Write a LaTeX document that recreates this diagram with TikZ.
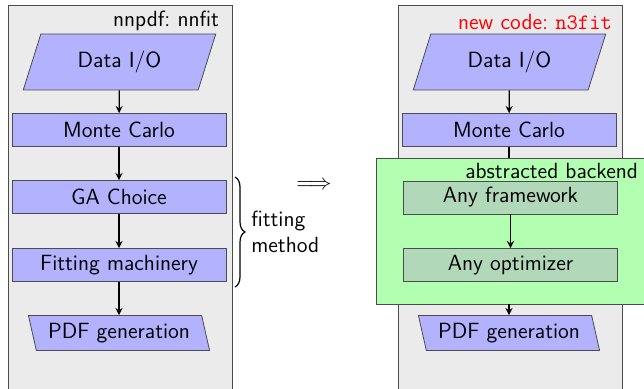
\documentclass[tikz,border=0pt]{standalone}
\usetikzlibrary{shapes.geometric,decorations.pathreplacing}
\definecolor{panelgray}{RGB}{235,235,235}
\definecolor{boxblue}{RGB}{178,178,255}
\definecolor{backgreen}{RGB}{178,255,178}
\definecolor{anygreen}{RGB}{178,216,186}
\begin{document}
\begin{tikzpicture}[x=0.5pt,y=-0.5pt,>=stealth,
    every node/.style={font=\sffamily\fontsize{11}{13.2}\selectfont},
    flow/.style={->, semithick},
    step box/.style={draw=black!70, fill=boxblue, minimum width=107pt, minimum height=16.5pt, inner sep=0pt},
    any box/.style={step box, fill=anygreen},
    io box/.style={trapezium, draw=black!70, fill=boxblue, trapezium stretches=true, inner sep=0pt},
    data box/.style={io box, trapezium left angle=67, trapezium right angle=113, minimum width=96.5pt, minimum height=28pt},
    pdf box/.style={io box, trapezium left angle=109, trapezium right angle=71, minimum width=91pt, minimum height=17.5pt}]
    \useasboundingbox (0,0) rectangle (644,389);

    \draw[black!70, fill=panelgray] (8,5) rectangle (232,400);
    \draw[black!70, fill=panelgray] (398,5) rectangle (622,400);

    \node[anchor=east] (nnfit) at (226,21) {nnpdf:\ nnfit};
    \node[data box] (data1) at (119.5,62) {Data I/O};
    \node[step box] (mc1) at (119,130) {Monte Carlo};
    \node[step box] (ga1) at (119,197) {GA Choice};
    \node[step box] (fit1) at (119,265) {Fitting machinery};
    \node[pdf box] (pdf1) at (119,333) {PDF generation};

    \draw[flow] (data1) -- (mc1);
    \draw[flow] (mc1) -- (ga1);
    \draw[flow] (ga1) -- (fit1);
    \draw[flow] (fit1) -- (pdf1);

    \draw[semithick, decorate, decoration={brace, amplitude=5pt}] (235,177) -- (235,287);
    \node[anchor=west, align=left, inner sep=1pt] (method) at (249,232) {fitting\\method};
    \node[inner sep=0pt] (implies) at (314,185) {$\Longrightarrow$};

    \node[anchor=east, text=red] (n3fit) at (619,22) {new code:\ \texttt{n3fit}};
    \node[data box] (data2) at (509.5,62) {Data I/O};
    \node[step box] (mc2) at (509,130) {Monte Carlo};
    \node[pdf box] (pdf2) at (509,333) {PDF generation};
    \draw[flow] (data2) -- (mc2);

    \node[draw=black!70, fill=backgreen, minimum width=136pt, minimum height=73pt, inner sep=0pt] (back) at (512,231) {};
    \draw[semithick] (mc2.south) -- (mc2.south |- back.north);
    \draw[flow] (pdf2.north |- back.south) -- (pdf2.north);
    \node[anchor=east] (backlabel) at (645,171) {abstracted backend};
    \node[any box] (frame) at (510.5,197.5) {Any framework};
    \node[any box] (opt) at (510.5,265) {Any optimizer};
    \draw[flow] (frame) -- (opt);
\end{tikzpicture}
\end{document}
